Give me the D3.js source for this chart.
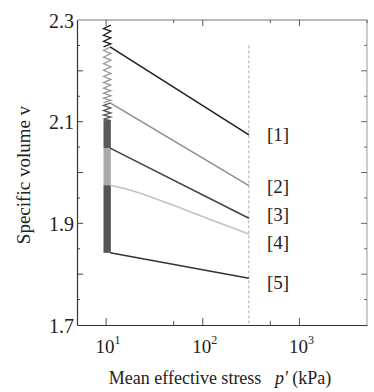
<!DOCTYPE html>
<html>
<head>
<meta charset="utf-8">
<script src="https://cdn.jsdelivr.net/npm/d3@7"></script>
<style>
  body { margin: 0; background: #fff; }
  svg { display: block; }
  svg text { font-family: "Liberation Serif", "Times New Roman", Times, serif !important; fill: #222; }
</style>
</head>
<body>
<svg id="chart" width="374" height="392"></svg>
<script>
// Monotonic loading paths after each cyclic stage (p' in kPa, specific volume v)
const curveLabels = ['[1]', '[2]', '[3]', '[4]', '[5]']
const curveColors = ['#1e1e1e', '#8c8c8c', '#404040', '#c2c2c2', '#333333']
const pStraight = [11, 300]
const v1 = [2.247, 2.074]
const v2 = [2.137, 1.974]
const v3 = [2.048, 1.910]
const p4 = [11, 18, 43, 121, 300]
const v4 = [1.975, 1.965, 1.940, 1.907, 1.879]
const v5 = [1.842, 1.792]

// Cyclic loading at p' ~ 10 kPa: zigzag vertices (v), alternating sides
const pCyclic = [9.4, 11.2]
const zigBlack = [2.290, 2.283, 2.278, 2.270, 2.265, 2.258, 2.253, 2.247]
const zigGray = [2.247, 2.240, 2.234, 2.227, 2.221, 2.214, 2.208, 2.201, 2.195, 2.189,
                 2.183, 2.177, 2.172, 2.166, 2.161, 2.156, 2.151, 2.146, 2.142, 2.137]
const zigDark = [2.137, 2.132, 2.127, 2.122, 2.117, 2.113, 2.109, 2.105, 2.102]
// dense cycles drawn as filled bands [top v, bottom v]
const bandTops = [2.103, 2.048, 1.975]
const bandBottoms = [2.048, 1.975, 1.842]
const bandColors = ['#5a5a5a', '#ababab', '#555555']

const yTicks = [1.7, 1.9, 2.1, 2.3]
const xTicks = [10, 100, 1000]
const pDashed = 300

const svg = d3.select('#chart')
const margin = { top: 20, right: 7, bottom: 67, left: 77 }
const width = 374 - margin.left - margin.right
const height = 392 - margin.top - margin.bottom

const x = d3.scaleLog().domain([5, 5000]).range([0, width])
const y = d3.scaleLinear().domain([1.7, 2.3]).range([height, 0])

const g = svg.append('g').attr('transform', `translate(${margin.left},${margin.top})`)

// frame: top/right lighter
g.append('line').attr('x1', 0).attr('x2', width).attr('y1', 0).attr('y2', 0)
  .attr('stroke', '#777').attr('stroke-width', 1)
g.append('line').attr('x1', width).attr('x2', width).attr('y1', 0).attr('y2', height)
  .attr('stroke', '#999').attr('stroke-width', 1)

// minor/major tick values
const vMinor = d3.range(34, 47).map(d => d * 0.05)
const pMinor = [50, 500]

// left axis
const left = g.append('g').call(d3.axisLeft(y).tickValues(yTicks).tickSize(0).tickPadding(3).tickFormat(d3.format('.1f')))
left.select('.domain').attr('stroke', '#333').attr('stroke-width', 1.2)
left.selectAll('text').style('font-size', '20px').attr('dy', '0.35em')
const yTickPos = vMinor.filter(v => v > 1.701 && v < 2.299)
g.append('g').selectAll('line').data(yTickPos).join('line')
  .attr('x1', 0).attr('x2', d => Math.round(d * 20) % 2 === 0 ? 6 : 3)
  .attr('y1', d => y(d)).attr('y2', d => y(d))
  .attr('stroke', '#444').attr('stroke-width', 1)
g.append('g').selectAll('line').data(yTickPos).join('line')
  .attr('x1', width).attr('x2', d => width - (Math.round(d * 20) % 2 === 0 ? 6 : 3))
  .attr('y1', d => y(d)).attr('y2', d => y(d))
  .attr('stroke', '#666').attr('stroke-width', 1)

// bottom axis
const bottom = g.append('g').attr('transform', `translate(0,${height})`)
  .call(d3.axisBottom(x).tickValues(xTicks).tickSize(0).tickFormat(''))
bottom.select('.domain').attr('stroke', '#333').attr('stroke-width', 1.2)
const xLab = g.append('g').selectAll('text').data(xTicks).join('text')
  .attr('x', d => x(d) + 2).attr('y', height + 28)
  .attr('text-anchor', 'middle').style('font-size', '19px')
xLab.append('tspan').text('10')
xLab.append('tspan').attr('dy', -9).style('font-size', '12px').text(d => Math.round(Math.log10(d)))

const xTickAll = xTicks.concat(pMinor)
g.append('g').selectAll('line').data(xTickAll).join('line')
  .attr('x1', d => x(d)).attr('x2', d => x(d))
  .attr('y1', height).attr('y2', d => height - (xTicks.includes(d) ? 7 : 4))
  .attr('stroke', '#555')
g.append('g').selectAll('line').data(xTickAll.concat([5000])).join('line')
  .attr('x1', d => x(d)).attr('x2', d => x(d))
  .attr('y1', 0).attr('y2', d => (xTicks.includes(d) ? 6 : 3))
  .attr('stroke', '#555')

// dashed line at end of monotonic loading
g.append('line').attr('x1', x(pDashed)).attr('x2', x(pDashed))
  .attr('y1', y(2.25)).attr('y2', height)
  .attr('stroke', '#aaa').attr('stroke-width', 1).attr('stroke-dasharray', '3,2')

// cyclic bands
g.append('g').selectAll('rect').data(bandTops).join('rect')
  .attr('x', x(pCyclic[0])).attr('width', x(pCyclic[1]) - x(pCyclic[0]))
  .attr('y', d => y(d)).attr('height', (d, i) => y(bandBottoms[i]) - y(d))
  .attr('fill', (d, i) => bandColors[i])

// cyclic zigzags
const zig = d3.line().x((d, i) => x(pCyclic[i % 2 === 0 ? 1 : 0])).y(d => y(d))
const zigs = [zigBlack, zigGray, zigDark]
const zigColors = ['#1e1e1e', '#9a9a9a', '#555555']
g.append('g').selectAll('path').data(zigs).join('path')
  .attr('d', d => zig(d)).attr('fill', 'none')
  .attr('stroke', (d, i) => zigColors[i]).attr('stroke-width', 1.3)

// monotonic curves
const series = [
  pStraight.map((p, i) => [p, v1[i]]),
  pStraight.map((p, i) => [p, v2[i]]),
  pStraight.map((p, i) => [p, v3[i]]),
  p4.map((p, i) => [p, v4[i]]),
  pStraight.map((p, i) => [p, v5[i]])
]
const line = d3.line().x(d => x(d[0])).y(d => y(d[1])).curve(d3.curveMonotoneX)
g.append('g').selectAll('path').data(series).join('path')
  .attr('d', d => line(d)).attr('fill', 'none')
  .attr('stroke', (d, i) => curveColors[i]).attr('stroke-width', 1.5)

// curve labels
const labelV = [2.075, 1.973, 1.918, 1.862, 1.783]
g.append('g').selectAll('text').data(curveLabels).join('text')
  .attr('x', x(pDashed) + 18).attr('y', (d, i) => y(labelV[i]))
  .attr('dy', '0.35em').style('font-size', '19px').text(d => d)

// axis titles
svg.append('text').attr('transform', 'translate(30,175) rotate(-90)')
  .attr('text-anchor', 'middle').style('font-size', '19px').text('Specific volume v')
const xt = svg.append('text').attr('x', 220).attr('y', 384)
  .attr('text-anchor', 'middle').style('font-size', '18px')
xt.append('tspan').text('Mean effective stress\u00a0\u00a0\u00a0')
xt.append('tspan').style('font-style', 'italic').text("p'")
xt.append('tspan').text(' (kPa)')
</script>
</body>
</html>
